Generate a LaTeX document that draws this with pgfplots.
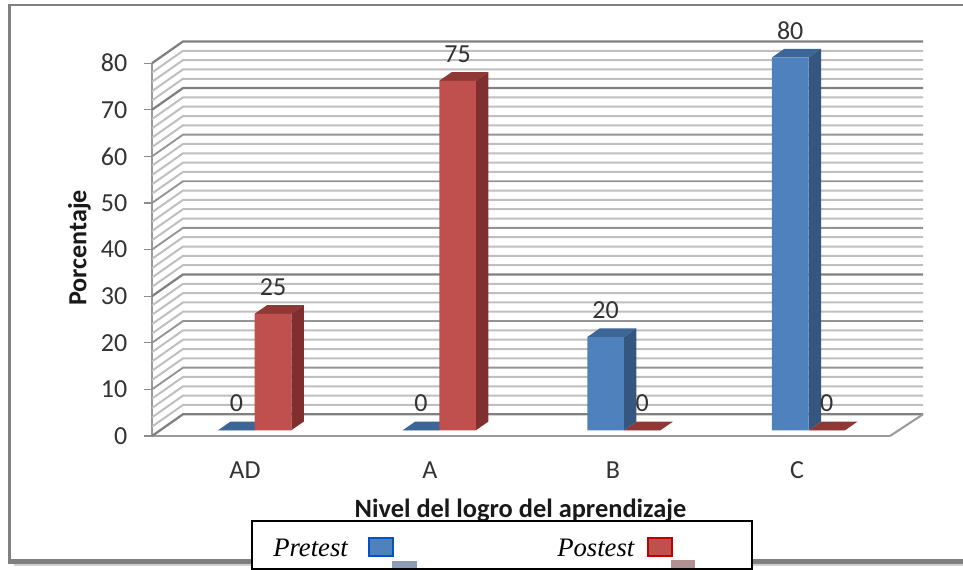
\documentclass[border=0pt]{standalone}
\usepackage{fontspec}
\setmainfont{Carlito}
\newfontfamily\tnr{Liberation Serif}
\usepackage{pgfplots}
\pgfplotsset{compat=1.18}
\definecolor{blueF}{HTML}{4F81BD}
\definecolor{blueS}{HTML}{35577F}
\definecolor{blueT}{HTML}{3C6696}
\definecolor{redF}{HTML}{C0504D}
\definecolor{redS}{HTML}{7F2F2D}
\definecolor{redT}{HTML}{8F3836}
\definecolor{stubB}{HTML}{8C9DB5}
\definecolor{stubR}{HTML}{B09090}
\begin{document}
\begin{tikzpicture}
\path[use as bounding box] (-114pt,-100.5pt) rectangle ++(722.25pt,427.5pt);
\begin{axis}[
  at={(0,0)}, anchor=south west,
  scale only axis, width=553.5pt, height=279.6pt,
  xmin=152, xmax=890, ymin=0, ymax=80,
  clip=false,
  axis x line*=bottom, axis y line*=left,
  axis line style={draw=black!40, line width=1.7pt},
  ytick={0,10,...,80},
  xtick={245,430,613,797},
  xticklabels={AD,A,B,C},
  major tick length=6pt,
  x tick style={draw=none},
  y tick style={draw=black!45, line width=1pt},
  tick align=outside,
  /pgf/number format/assume math mode=true,
  tick label style={font=\fontsize{19.5}{22}\selectfont, text=black!80},
  yticklabel style={xshift=-9pt},
  xticklabel style={yshift=-10pt},
  every node near coord/.append style={font=\fontsize{19.5}{22}\selectfont, text=black!80, anchor=center, yshift=20pt, inner sep=0pt},
]
% back wall and left wall grid
\pgfplotsinvokeforeach{2,4,6,8,12,14,16,18,22,24,26,28,32,34,36,38,42,44,46,48,52,54,56,58,62,64,66,68,72,74,76,78}{
  \draw[black!25, line width=1.5pt] (axis cs:152,#1) -- ([yshift=16.3pt]axis cs:183,#1) -- ([yshift=16.3pt]axis cs:923,#1);
}
\pgfplotsinvokeforeach{10,20,40,50,60}{
  \draw[black!42, line width=1.4pt] (axis cs:152,#1) -- ([yshift=16.3pt]axis cs:183,#1) -- ([yshift=16.3pt]axis cs:923,#1);
}
\pgfplotsinvokeforeach{0,30,70,80}{
  \draw[black!50, line width=1.7pt] (axis cs:152,#1) -- ([yshift=16.3pt]axis cs:183,#1) -- ([yshift=16.3pt]axis cs:923,#1);
}
\draw[black!40, line width=1.5pt] (axis cs:890,0) -- ([yshift=16.3pt]axis cs:923,0);
% tops and sides, Postest
\addplot[fill=redT, draw=none, yshift=4.3pt] coordinates {(254.7,25)(291.3,25)(303.8,26.87)(267.2,26.87)} -- cycle;
\addplot[fill=redS, draw=none, yshift=4.3pt] coordinates {(291.3,0)(303.8,1.87)(303.8,26.87)(291.3,25)} -- cycle;
\addplot[fill=redT, draw=none, yshift=4.3pt] coordinates {(439.3,75)(475.9,75)(488.4,76.87)(451.8,76.87)} -- cycle;
\addplot[fill=redS, draw=none, yshift=4.3pt] coordinates {(475.9,0)(488.4,1.87)(488.4,76.87)(475.9,75)} -- cycle;
\addplot[fill=redT, draw=none, yshift=4.3pt] coordinates {(623.9,0)(660.5,0)(673,1.87)(636.4,1.87)} -- cycle;
\addplot[fill=redT, draw=none, yshift=4.3pt] coordinates {(808.5,0)(845.1,0)(857.6,1.87)(821,1.87)} -- cycle;
% tops and sides, Pretest
\addplot[fill=blueT, draw=none, yshift=4.3pt] coordinates {(218.1,0)(254.7,0)(267.2,1.87)(230.6,1.87)} -- cycle;
\addplot[fill=blueT, draw=none, yshift=4.3pt] coordinates {(402.7,0)(439.3,0)(451.8,1.87)(415.2,1.87)} -- cycle;
\addplot[fill=blueT, draw=none, yshift=4.3pt] coordinates {(587.3,20)(623.9,20)(636.4,21.87)(599.8,21.87)} -- cycle;
\addplot[fill=blueS, draw=none, yshift=4.3pt] coordinates {(623.9,0)(636.4,1.87)(636.4,21.87)(623.9,20)} -- cycle;
\addplot[fill=blueT, draw=none, yshift=4.3pt] coordinates {(771.9,80)(808.5,80)(821,81.87)(784.4,81.87)} -- cycle;
\addplot[fill=blueS, draw=none, yshift=4.3pt] coordinates {(808.5,0)(821,1.87)(821,81.87)(808.5,80)} -- cycle;
% front faces with labels
\addplot[ybar, bar width=27.45pt, bar shift=0pt, fill=redF, draw=none, yshift=4.3pt, nodes near coords, point meta=y]
  coordinates {(273,25)(457.6,75)(642.2,0)(826.8,0)};
\addplot[ybar, bar width=27.45pt, bar shift=0pt, fill=blueF, draw=none, yshift=4.3pt, nodes near coords, point meta=y]
  coordinates {(236.4,0)(421,0)(605.6,20)(790.2,80)};
\end{axis}
\begin{scope}[x=0.75pt,y=-0.75pt,shift={(-114pt,327pt)}]
  % chart frame
  \fill[black!18] (14,562) rectangle (963,566);
  \fill[black!50] (8.5,559.5) rectangle (963,564);
  \fill[black!50] (8.5,5) rectangle (11,564);
  \fill[black!50] (8.5,4.5) rectangle (963,6);
  % axis titles
  \node[rotate=90, font=\fontsize{19.6}{22}\selectfont\bfseries, text=black!90] at (79.5,248) {Porcentaje};
  \node[font=\fontsize{19.8}{22}\selectfont\bfseries, text=black!90] at (520.5,510) {Nivel del logro del aprendizaje};
  % legend
  \draw[black, fill=white, line width=1.5pt] (252,521.5) rectangle (752,568.8);
  \node[anchor=base west, inner sep=0pt, font=\tnr\itshape\fontsize{20}{22}\selectfont] at (273,557) {Pretest};
  \node[anchor=base west, inner sep=0pt, font=\tnr\itshape\fontsize{20}{22}\selectfont] at (557,557) {Postest};
  \draw[fill=blueF, draw=blue!60!cyan!80!black, line width=1.3pt] (369,538) rectangle (393,556);
  \draw[fill=redF, draw=red!75!black, line width=1.3pt] (648,538) rectangle (672,556);
  \fill[fill=stubB] (392,561) rectangle (417,568);
  \fill[fill=stubR] (671,560) rectangle (695,568);
\end{scope}
\end{tikzpicture}
\end{document}
